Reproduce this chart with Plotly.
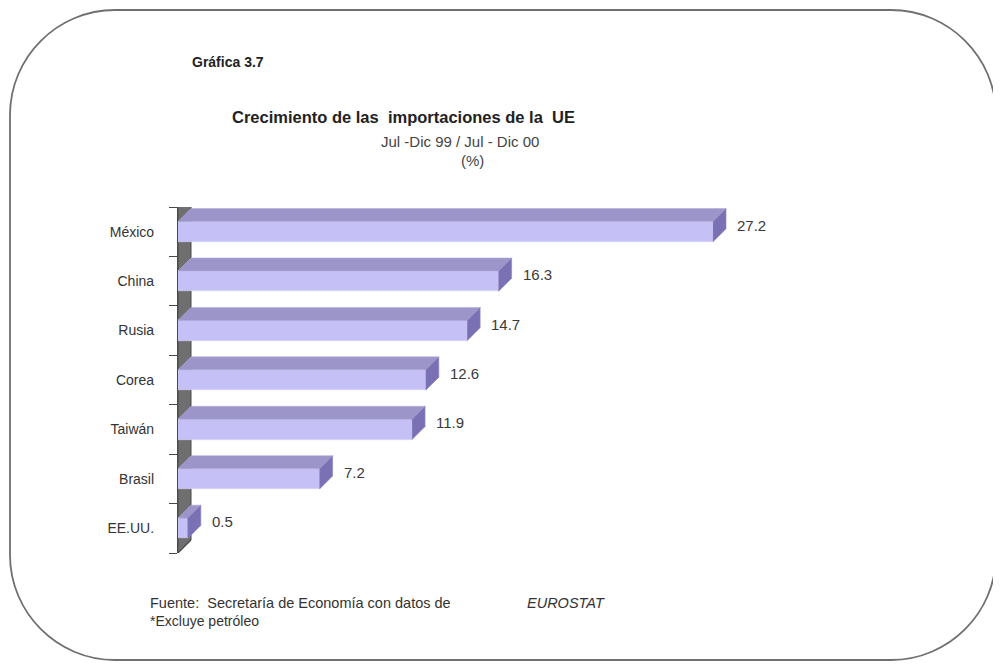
import plotly.graph_objects as go

# ---- data ----
categories = ["México", "China", "Rusia", "Corea", "Taiwán", "Brasil", "EE.UU."]
values = [27.2, 16.3, 14.7, 12.6, 11.9, 7.2, 0.5]
value_labels = ["27.2", "16.3", "14.7", "12.6", "11.9", "7.2", "0.5"]

# ---- layout geometry (screen pixels; page body has an 8px margin) ----
OFF = 8
W, H = 1001 - OFF, 668 - OFF
AX_L, AX_R, AX_T, AX_B = 178, 978, 207, 553     # plot area in screen px
ML, MR, MT, MB = AX_L - OFF, W - (AX_R - OFF), AX_T - OFF, H - (AX_B - OFF)
PW, PH = W - ML - MR, H - MT - MB
XMAX = (AX_R - AX_L) / 19.67
n = len(categories)
px_per_x = PW / XMAX
px_per_cat = PH / n

DX = 13 / px_per_x          # 3D depth, x units
DY = 13 / px_per_cat        # 3D depth, category units
BH = 0.41                   # front face height (category units)

FRONT = "#c5c1f7"
TOP = "#9c95ca"
SIDE = "#7a71b4"
WALL = "#6f6f6f"
FONT = "Liberation Sans, Arial, sans-serif"


def pxx(px):   # screen px -> paper x
    return (px - OFF - ML) / PW


def pyy(py):   # screen px -> paper y
    return (H - MB - (py - OFF)) / PH


ys = list(range(n))

fig = go.Figure()
fig.add_trace(go.Bar(
    x=values, y=ys, orientation="h", width=BH, base=0,
    marker=dict(color=FRONT, line=dict(color="#d8d5fb", width=0.6)),
    hoverinfo="skip", showlegend=False,
))

shapes = []
wall = f"M 0,{n-0.5} L 0,-0.5 L {DX},{-0.5-DY} L {DX},{n-0.5-DY} Z"
shapes.append(dict(type="path", path=wall, xref="x", yref="y",
                   fillcolor=WALL, line=dict(color="#4a4a4a", width=1), layer="below"))
shapes.append(dict(type="line", x0=0, y0=n-0.5, x1=DX, y1=n-0.5-DY, xref="x", yref="y",
                   line=dict(color="#4a4a4a", width=1.2)))

for i, v in enumerate(values):
    top_y = i - BH / 2
    bot_y = i + BH / 2
    top = f"M 0,{top_y} L {v},{top_y} L {v+DX},{top_y-DY} L {DX},{top_y-DY} Z"
    side = f"M {v},{top_y} L {v},{bot_y} L {v+DX},{bot_y-DY} L {v+DX},{top_y-DY} Z"
    shapes.append(dict(type="path", path=top, xref="x", yref="y",
                       fillcolor=TOP, line=dict(color="#b3addb", width=0.6)))
    shapes.append(dict(type="path", path=side, xref="x", yref="y",
                       fillcolor=SIDE, line=dict(color="#8e86c4", width=0.6)))

# rounded border (screen px)
x0, y0, x1, y1, r = 10, 10, 996, 660, 105
k = 0.55 * r
border = (f"M {pxx(x0+r)},{pyy(y0)} L {pxx(x1-r)},{pyy(y0)} "
          f"C {pxx(x1-r+k)},{pyy(y0)} {pxx(x1)},{pyy(y0+r-k)} {pxx(x1)},{pyy(y0+r)} "
          f"L {pxx(x1)},{pyy(y1-r)} "
          f"C {pxx(x1)},{pyy(y1-r+k)} {pxx(x1-r+k)},{pyy(y1)} {pxx(x1-r)},{pyy(y1)} "
          f"L {pxx(x0+r)},{pyy(y1)} "
          f"C {pxx(x0+r-k)},{pyy(y1)} {pxx(x0)},{pyy(y1-r+k)} {pxx(x0)},{pyy(y1-r)} "
          f"L {pxx(x0)},{pyy(y0+r)} "
          f"C {pxx(x0)},{pyy(y0+r-k)} {pxx(x0+r-k)},{pyy(y0)} {pxx(x0+r)},{pyy(y0)} Z")
shapes.append(dict(type="path", path=border, xref="paper", yref="paper",
                   line=dict(color="#707070", width=1.8), layer="below"))

annotations = []
for i, (v, lab) in enumerate(zip(values, value_labels)):
    annotations.append(dict(x=v + DX, y=i - DY / 2, xref="x", yref="y", text=lab,
                            showarrow=False, xanchor="left", yanchor="middle", xshift=9,
                            font=dict(family=FONT, size=15, color="#3a3a3a")))


def txt(px, py, s, anchor="left", size=13, color="#222", bold=False, italic=False):
    if bold:
        s = f"<b>{s}</b>"
    if italic:
        s = f"<i>{s}</i>"
    annotations.append(dict(x=pxx(px), y=pyy(py), xref="paper", yref="paper", text=s,
                            showarrow=False, xanchor=anchor, yanchor="middle",
                            font=dict(family=FONT, size=size, color=color)))


txt(190, 62, "Gráfica 3.7", bold=True, size=14)
txt(230, 117, "Crecimiento de las\u00a0 importaciones de la\u00a0 UE", anchor="left", bold=True, size=16.5)
txt(460, 141, "Jul -Dic 99 / Jul - Dic 00", anchor="center", size=15, color="#444")
txt(472, 160, "(%)", anchor="center", size=15, color="#444")
txt(148, 603, "Fuente:\u00a0 Secretaría de Economía con datos de", size=14.5, color="#333")
txt(525, 603, "EUROSTAT", italic=True, size=14.5, color="#333")
txt(148, 621, "*Excluye petróleo", size=14, color="#333")

fig.update_layout(
    width=W, height=H, autosize=False,
    margin=dict(l=ML, r=MR, t=MT, b=MB),
    paper_bgcolor="white", plot_bgcolor="rgba(0,0,0,0)",
    shapes=shapes, annotations=annotations, bargap=0,
    xaxis=dict(range=[0, XMAX], visible=False, fixedrange=True),
    yaxis=dict(range=[n - 0.5, -0.5], tickmode="array", tickvals=ys, ticktext=categories,
               ticks="", showgrid=False, zeroline=False, showline=True,
               linecolor="#4a4a4a", linewidth=1.2, ticklabelstandoff=20,
               tickfont=dict(family=FONT, size=14, color="#333"),
               minor=dict(tickmode="array", tickvals=[i - 0.5 for i in range(n + 1)],
                          ticks="outside", ticklen=8, tickcolor="#4a4a4a", tickwidth=1.2,
                          showgrid=False),
               fixedrange=True),
    font=dict(family=FONT),
)

fig.write_html("out.html")
